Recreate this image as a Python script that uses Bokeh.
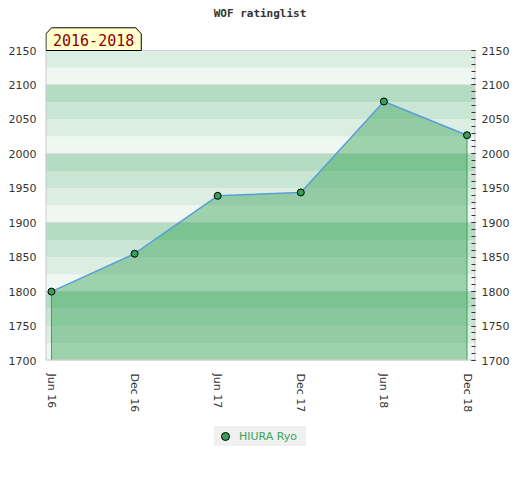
import numpy as np
from bokeh.plotting import figure
from bokeh.layouts import column
from bokeh.models import FixedTicker, LinearAxis, Legend, LegendItem, Range1d
from bokeh.core.properties import value
from bokeh.embed import file_html
from bokeh.resources import INLINE

# ---- data ----
title_text = "WOF ratinglist"
period_label = "2016-2018"
player = "HIURA Ryo"
periods = ["Jun 16", "Dec 16", "Jun 17", "Dec 17", "Jun 18", "Dec 18"]
ratings = [1800, 1855, 1939, 1944, 2076, 2027]
y_ticks = [1700, 1750, 1800, 1850, 1900, 1950, 2000, 2050, 2100, 2150]
y_minor = list(range(1700, 2151, 10))

# ---- layout ----
ML, MR, MT, MB = 45, 36, 0, 60
FW, FH = 431, 360
W, H = ML + FW + MR, MT + FH + MB
y_lo, y_hi = 1700, 2150
ypx = 310 / 450.0
y_end = y_lo + FH / ypx
x_start, x_end = -0.072, 5.102
xpx = FW / (x_end - x_start)

def py(px_from_top):
    return y_lo + (FH - px_from_top) / ypx

xs = list(range(len(periods)))

p = figure(width=W, height=H, output_backend="svg", toolbar_location=None,
           x_range=Range1d(x_start, x_end), y_range=Range1d(y_lo, y_end),
           min_border_left=ML, min_border_right=MR, min_border_top=MT,
           min_border_bottom=MB, y_axis_location=None)
p.outline_line_color = None
p.background_fill_color = "white"
p.xgrid.visible = False
p.ygrid.visible = False

# background bands
band_colors = {0: "#eff7f2", 25: "#dcede2", 50: "#c8e6d3", 75: "#b3dcc2"}
b = np.arange(y_lo, y_hi, 25)
p.quad(left=x_start, right=x_end, bottom=b, top=b + 25,
       fill_color=[band_colors[int(v) % 100] for v in b], line_color=None)
g = [v for v in y_ticks if v % 100 == 0 and y_lo < v < y_hi]
p.segment(x0=x_start, x1=x_end, y0=g, y1=g, line_color="#d2d2d2", line_width=1)

# area
p.varea(x=xs, y1=y_lo, y2=ratings, fill_color=(58, 164, 89), fill_alpha=0.45)
p.segment(x0=[xs[0], xs[-1]], x1=[xs[0], xs[-1]], y0=y_lo,
          y1=[ratings[0], ratings[-1]], line_color="#3aa45a", line_width=1)

# frame border
p.segment(x0=[x_start, x_end, x_start], x1=[x_start, x_end, x_end],
          y0=[y_lo, y_lo, y_lo], y1=[y_hi, y_hi, y_lo],
          line_color="#cccccc", line_width=2)
p.segment(x0=x_start, x1=x_end, y0=y_hi, y1=y_hi, line_color="#d0d0d0", line_width=1)

p.line(xs, ratings, line_color="#5a9fd8", line_width=1.5)
p.scatter(xs, ratings, size=7, fill_color="#35a05a", line_color="black", line_width=1)

# period box
x0 = x_start + 0.5 / xpx
x1 = x0 + 95.5 / xpx
dx = 5.5 / xpx
ytop = py(27.3)
yc = py(33.3)
p.patch(x=[x0, x0, x0 + dx, x1 - dx, x1, x1], y=[y_hi, yc, ytop, ytop, yc, y_hi],
        fill_color="#ffffcc", line_color="black", line_width=1)
p.text(x=[(x0 + x1) / 2], y=[py(39.5)], text=[period_label],
       text_font=value("DejaVu Sans Mono"), text_font_size="15px",
       text_color="#8b0000", text_align="center", text_baseline="middle")

# title
p.text(x=[(260 - ML) / xpx + x_start], y=[py(13)], text=[title_text],
       text_font=value("DejaVu Sans Mono"), text_font_style="bold",
       text_font_size="11px", text_color="#333333",
       text_align="center", text_baseline="middle")

# axes
p.xaxis.ticker = FixedTicker(ticks=xs)
p.xaxis.major_label_overrides = {i: s for i, s in enumerate(periods)}
p.xaxis.major_label_orientation = "vertical"
p.xaxis.axis_line_color = None
p.xaxis.major_tick_line_color = None
p.xaxis.minor_tick_line_color = None
p.xaxis.major_tick_out = 0
p.xaxis.major_label_standoff = 13
p.xaxis.major_label_text_font = "DejaVu Sans"
p.xaxis.major_label_text_font_size = "11px"
p.xaxis.major_label_text_color = "#333333"

left = LinearAxis(ticker=FixedTicker(ticks=y_ticks))
left.axis_line_color = None
left.major_tick_line_color = None
left.minor_tick_line_color = None
left.major_tick_out = 0
left.major_label_standoff = 9
left.major_label_text_font = "DejaVu Sans"
left.major_label_text_font_size = "11px"
left.major_label_text_color = "#333333"
p.add_layout(left, "left")

right = LinearAxis(ticker=FixedTicker(ticks=y_ticks, minor_ticks=y_minor))
right.axis_line_color = None
right.major_tick_in = 4
right.major_tick_out = 0
right.minor_tick_in = 4
right.minor_tick_out = 0
right.major_tick_line_color = "#333333"
right.minor_tick_line_color = "#333333"
right.major_label_standoff = 6
right.major_label_text_font = "DejaVu Sans"
right.major_label_text_font_size = "11px"
right.major_label_text_color = "#333333"
p.add_layout(right, "right")

# ---- legend strip (frame aligned with the main plot's frame) ----
LH = 60
p2 = figure(width=W, height=LH, output_backend="svg", toolbar_location=None,
            x_range=Range1d(x_start, x_end), y_range=Range1d(0, 1),
            min_border_left=ML, min_border_right=MR, min_border_top=0,
            min_border_bottom=0, x_axis_location=None, y_axis_location=None)
p2.outline_line_color = None
p2.xgrid.visible = False
p2.ygrid.visible = False
# same series; its points fall outside this strip's range, only its legend swatch shows
swatch = p2.scatter(xs, ratings, size=7, fill_color="#35a05a", line_color="black", line_width=1)
legend = Legend(items=[LegendItem(label=player, renderers=[swatch])],
                location=(214 - ML, LH - 26 - 20 + 20), margin=0, padding=0, spacing=0,
                glyph_width=22, glyph_height=20, label_height=20, label_width=67,
                label_standoff=3, background_fill_color="#f0f0f0",
                background_fill_alpha=1, border_line_color=None,
                label_text_font="DejaVu Sans", label_text_font_size="11px",
                label_text_color="#3aa55a")
p2.add_layout(legend)

open("out.html", "w").write(file_html(column(p, p2, spacing=0), INLINE))
